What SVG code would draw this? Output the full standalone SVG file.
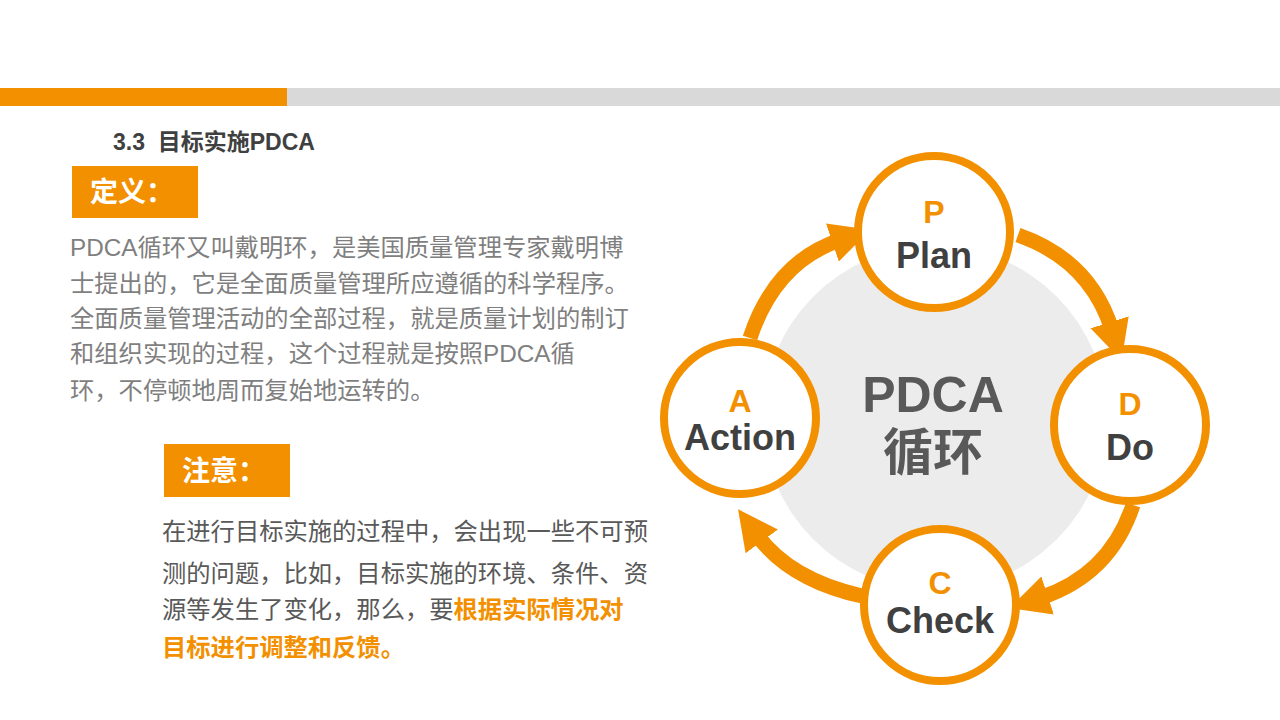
<svg xmlns="http://www.w3.org/2000/svg" width="1280" height="720" viewBox="0 0 1280 720">
<defs>
<style>
.t{font-family:"Liberation Sans","Noto Sans CJK SC",sans-serif}
.p{font-size:24.3px;fill:#7f7f7f}
.hb{font-size:28px;font-weight:bold;fill:#fff}
.node{fill:#fff;stroke:#f39000;stroke-width:8}
.let{font-size:32px;font-weight:bold;fill:#f39000;text-anchor:middle}
.wd{font-size:36px;font-weight:bold;fill:#404040;text-anchor:middle}
.arc{fill:none;stroke:#f39000;stroke-width:15}
.or{fill:#f39000;font-weight:bold}
</style>
<marker id="ah" markerUnits="userSpaceOnUse" markerWidth="50" markerHeight="50" refX="8" refY="25" orient="auto">
<polygon points="0,5 40,25 0,45" fill="#f39000"/>
</marker>
</defs>
<rect width="1280" height="720" fill="#fff"/>
<rect x="0" y="88" width="287" height="18" fill="#f39000"/>
<rect x="287" y="88" width="993" height="18" fill="#d9d9d9"/>
<text class="t" x="113" y="150" font-size="23" font-weight="bold" fill="#404040" xml:space="preserve">3.3  目标实施PDCA</text>
<g id="def"><rect x="72" y="166" width="126" height="52" fill="#f39000"/><text class="t hb" x="90" y="202">定义：</text></g>
<g class="t p">
<text x="70" y="256">PDCA循环又叫戴明环，是美国质量管理专家戴明博</text>
<text x="70" y="292">士提出的，它是全面质量管理所应遵循的科学程序。</text>
<text x="70" y="327">全面质量管理活动的全部过程，就是质量计划的制订</text>
<text x="70" y="362">和组织实现的过程，这个过程就是按照PDCA循</text>
<text x="70" y="399">环，不停顿地周而复始地运转的。</text>
</g>
<g id="note"><rect x="164" y="444" width="126" height="53" fill="#f39000"/><text class="t hb" x="182" y="481">注意：</text></g>
<g class="t p" style="fill:#595959">
<text x="162" y="540">在进行目标实施的过程中，会出现一些不可预</text>
<text x="162" y="582">测的问题，比如，目标实施的环境、条件、资</text>
<text x="162" y="618">源等发生了变化，那么，要<tspan class="or">根据实际情况对</tspan></text>
<text x="162" y="656"><tspan class="or">目标进行调整和反馈。</tspan></text>
</g>
<circle cx="935" cy="418" r="172" fill="#ececec"/>
<g id="connectors">
<path class="arc" d="M750 338 Q775 262 840 240" marker-end="url(#ah)"/>
<path class="arc" d="M1018 235 Q1090 260 1112 330" marker-end="url(#ah)"/>
<path class="arc" d="M1133 505 Q1110 575 1040 598" marker-end="url(#ah)"/>
<path class="arc" d="M862 596 Q790 580 757 535" marker-end="url(#ah)"/>
</g>
<g id="center"><text class="t" x="933" y="412" font-size="50" font-weight="bold" fill="#595959" text-anchor="middle">PDCA</text><text class="t" x="933" y="470" font-size="50" font-weight="bold" fill="#595959" text-anchor="middle">循环</text></g>
<g id="P"><circle class="node" cx="934" cy="232" r="76"/><text class="t let" x="934" y="223">P</text><text class="t wd" x="934" y="268">Plan</text></g>
<g id="D"><circle class="node" cx="1130" cy="425" r="76"/><text class="t let" x="1130" y="415">D</text><text class="t wd" x="1130" y="460">Do</text></g>
<g id="C"><circle class="node" cx="940" cy="605" r="76"/><text class="t let" x="940" y="594">C</text><text class="t wd" x="940" y="633">Check</text></g>
<g id="A"><circle class="node" cx="740" cy="418" r="76"/><text class="t let" x="740" y="412">A</text><text class="t wd" x="740" y="450">Action</text></g>
</svg>
